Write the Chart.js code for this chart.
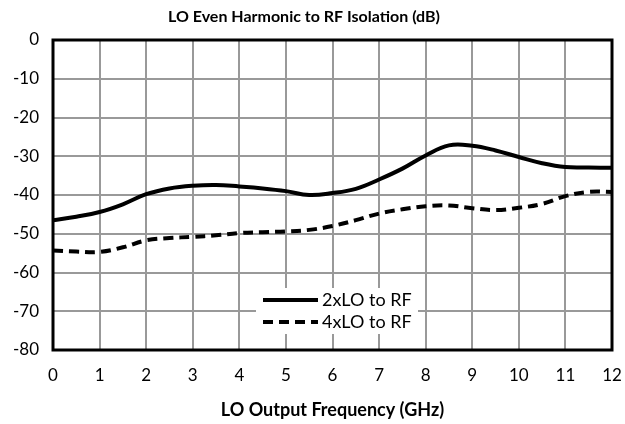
<!DOCTYPE html>
<html><head><meta charset="utf-8">
<script src="https://cdn.jsdelivr.net/npm/chart.js@4.4.1/dist/chart.umd.min.js"></script>
<style>html,body{margin:0;padding:0;background:#fff}#wrap{width:625px;height:424px}</style>
</head><body><div id="wrap"><canvas id="c" width="625" height="424"></canvas></div>
<script>
const chartTitle = "LO Even Harmonic to RF Isolation (dB)";
const xAxisTitle = "LO Output Frequency (GHz)";
const freqs = [0,0.5,1,1.5,2,2.5,3,3.5,4,4.5,5,5.5,6,6.5,7,7.5,8,8.5,9,9.5,10,10.5,11,11.5,12];
const lo2 = [-46.5,-45.6,-44.4,-42.4,-39.8,-38.3,-37.6,-37.4,-37.8,-38.3,-39.0,-40.0,-39.5,-38.4,-36.0,-33.2,-29.8,-27.2,-27.3,-28.5,-30.2,-31.8,-32.8,-32.9,-33.0];
const lo4 = [-54.3,-54.6,-54.7,-53.5,-51.7,-51.1,-50.8,-50.4,-49.8,-49.6,-49.4,-49.0,-48.0,-46.5,-44.8,-43.7,-42.9,-42.7,-43.4,-43.9,-43.3,-42.3,-40.3,-39.2,-39.2];
const seriesLabels = ["2xLO to RF","4xLO to RF"];
const yTicks = [0,-10,-20,-30,-40,-50,-60,-70,-80];
const xTicks = [0,1,2,3,4,5,6,7,8,9,10,11,12];

const FONT = "Lato, 'Open Sans', sans-serif";
const toPts = (xs, ys) => xs.map((x,i)=>({x:x,y:ys[i]}));

const frame = {
  id:'frame',
  afterDatasetsDraw(chart){
    const {ctx, chartArea:a} = chart;
    ctx.save();
    const lx=256, ly=288, lw=162, lh=46;
    ctx.fillStyle='#fff'; ctx.fillRect(lx,ly,lw,lh);
    chart.data.datasets.forEach((ds,i)=>{
      const yy = ly + 12 + i*22;
      ctx.beginPath();
      ctx.strokeStyle = ds.borderColor; ctx.lineWidth = 4;
      ctx.setLineDash(ds.borderDash || []);
      ctx.moveTo(263, yy); ctx.lineTo(318, yy); ctx.stroke();
      ctx.setLineDash([]);
      ctx.fillStyle='#000'; ctx.font = "18px "+FONT; ctx.textBaseline='middle'; ctx.textAlign='left';
      ctx.fillText(ds.label, 322, yy);
    });
    ctx.strokeStyle='#000'; ctx.lineWidth=3;
    ctx.strokeRect(a.left, a.top, a.right-a.left, a.bottom-a.top);
    ctx.fillStyle='#000'; ctx.font="bold 16px "+FONT; ctx.textAlign='center'; ctx.textBaseline='middle';
    ctx.fillText(chartTitle, 304, 17);
    ctx.restore();
  }
};

new Chart(document.getElementById('c'), {
  type:'line',
  data:{datasets:[
    {label:seriesLabels[0], data:toPts(freqs,lo2), borderColor:'#000', borderWidth:4, pointRadius:0, tension:0.4, fill:false},
    {label:seriesLabels[1], data:toPts(freqs,lo4), borderColor:'#000', borderWidth:4, borderDash:[10,6], pointRadius:0, tension:0.4, fill:false}
  ]},
  options:{
    responsive:false, animation:false, devicePixelRatio:1,
    layout:{padding:{top:40,left:0,right:13,bottom:0}},
    plugins:{legend:{display:false}, title:{display:false}, tooltip:{enabled:false}},
    scales:{
      x:{type:'linear', min:0, max:12,
        afterBuildTicks(s){ s.ticks = xTicks.map(v=>({value:v})); },
        afterFit(s){ s.height = 74; s.paddingRight = 0; s.paddingLeft = 0; },
        grid:{color:'#999', lineWidth:2, drawTicks:false},
        border:{display:false},
        ticks:{color:'#000', font:{family:FONT, size:17}, padding:15, maxRotation:0},
        title:{display:true, text:xAxisTitle, color:'#000', font:{family:FONT, size:18, weight:'bold'}, padding:{top:4,bottom:3}}
      },
      y:{type:'linear', min:-80, max:0,
        afterBuildTicks(s){ s.ticks = yTicks.map(v=>({value:v})); },
        afterFit(s){ s.width = 53; s.paddingTop = 0; s.paddingBottom = 0; },
        grid:{color:'#999', lineWidth:2, drawTicks:false},
        border:{display:false},
        ticks:{color:'#000', font:{family:FONT, size:17}, padding:14}
      }
    }
  },
  plugins:[frame]
});
</script></body></html>
